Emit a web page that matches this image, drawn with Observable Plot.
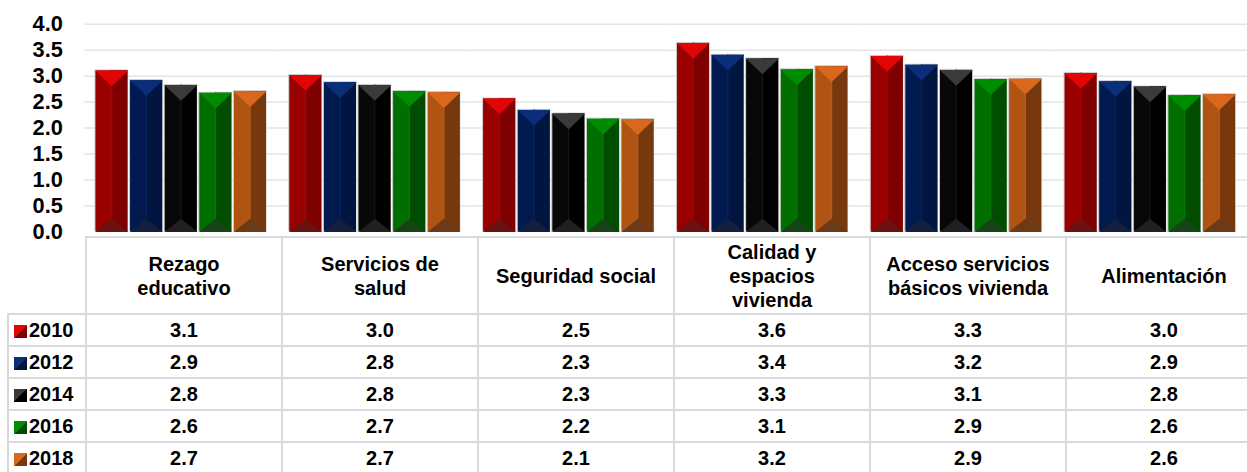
<!DOCTYPE html>
<html>
<head>
<meta charset="utf-8">
<script src="https://cdn.jsdelivr.net/npm/d3@7"></script>
<script src="https://cdn.jsdelivr.net/npm/@observablehq/plot@0.6"></script>
<style>
  html, body { margin: 0; padding: 0; overflow: hidden; background: #fff; }
  body { width: 1247px; height: 472px; font-family: "Liberation Sans", Arial, sans-serif; }
  #chart { position: relative; z-index: 1; height: 236px; }
  #chart svg { display: block; overflow: visible; background: transparent !important; }
  table { border-collapse: collapse; table-layout: fixed; margin-left: 7px; width: 1254px;
          font: bold 20px "Liberation Sans", Arial, sans-serif; color: #000; }
  td { border: 2px solid #d9d9d9; text-align: center; padding: 0; }
  tr.head td { height: 75px; white-space: pre-line; line-height: 24px; }
  tr.head td.blank { border-top: none; border-left: none; }
  tr.row td { height: 30px; line-height: 20px; }
  td.leg { text-align: left; padding-left: 5px; white-space: nowrap; }
  .sw { display: inline-block; width: 13px; height: 13px; margin-right: 2px; vertical-align: -1px; }
</style>
</head>
<body>
<div id="chart"></div>
<table id="tbl"></table>
<script>
// ---- data ----
const categories = ["Rezago educativo", "Servicios de salud", "Seguridad social",
  "Calidad y espacios vivienda", "Acceso servicios básicos vivienda", "Alimentación"];
const headerLabels = ["Rezago\neducativo", "Servicios de\nsalud", "Seguridad social",
  "Calidad y\nespacios\nvivienda", "Acceso servicios\nbásicos vivienda", "Alimentación"];
const years = ["2010", "2012", "2014", "2016", "2018"];

const values2010 = [3.11, 3.02, 2.57, 3.64, 3.39, 3.06];
const values2012 = [2.92, 2.88, 2.35, 3.41, 3.22, 2.90];
const values2014 = [2.83, 2.83, 2.28, 3.34, 3.12, 2.80];
const values2016 = [2.68, 2.71, 2.18, 3.13, 2.94, 2.63];
const values2018 = [2.71, 2.69, 2.17, 3.19, 2.95, 2.65];

const labels2010 = ["3.1", "3.0", "2.5", "3.6", "3.3", "3.0"];
const labels2012 = ["2.9", "2.8", "2.3", "3.4", "3.2", "2.9"];
const labels2014 = ["2.8", "2.8", "2.3", "3.3", "3.1", "2.8"];
const labels2016 = ["2.6", "2.7", "2.2", "3.1", "2.9", "2.6"];
const labels2018 = ["2.7", "2.7", "2.1", "3.2", "2.9", "2.6"];

const yTicks = [0, 0.5, 1, 1.5, 2, 2.5, 3, 3.5, 4];

// ---- styles ----
const seriesValues = [values2010, values2012, values2014, values2016, values2018];
const seriesLabels = [labels2010, labels2012, labels2014, labels2016, labels2018];
const colLeft   = {"2010": "#990000", "2012": "#001a4f", "2014": "#080808", "2016": "#006f00", "2018": "#b05414"};
const colRight  = {"2010": "#7f0000", "2012": "#001640", "2014": "#000000", "2016": "#004d00", "2018": "#78380d"};
const colTop    = {"2010": "#e20505", "2012": "#0a2e7a", "2014": "#3a3a3a", "2016": "#008c00", "2018": "#d9681c"};
const colBottom = {"2010": "#6a1212", "2012": "#141f3e", "2014": "#202020", "2016": "#164416", "2018": "#6b3a18"};
const colSeam   = {"2010": "#b80000", "2012": "#0a2560", "2014": "#1a1a1a", "2016": "#008000", "2018": "#c05f1a"};

const data = years.flatMap((yr, i) => categories.map((c, j) => ({cat: c, year: yr, value: seriesValues[i][j]})));

const triDown = {draw(ctx, size) { const r = Math.sqrt(size / Math.PI); ctx.moveTo(-r, 0); ctx.lineTo(r, 0); ctx.lineTo(0, r * 0.95); ctx.closePath(); }};
const triUp = {draw(ctx, size) { const r = Math.sqrt(size / Math.PI); ctx.moveTo(-r, 0); ctx.lineTo(r, 0); ctx.lineTo(0, -r * 0.8); ctx.closePath(); }};
const half = 16.75;
const gapHalf = 9.8;

const chart = Plot.plot({
  width: 1261,
  height: 236,
  marginLeft: 85,
  marginRight: 0,
  marginTop: 24,
  marginBottom: 2,
  style: {fontFamily: '"Liberation Sans", Arial, sans-serif', color: "#000", background: "transparent", overflow: "visible"},
  fx: {domain: categories, paddingInner: 0.1, paddingOuter: 0.05, axis: null, label: null},
  x: {domain: years, paddingInner: 0.05, paddingOuter: 0.025, axis: null, label: null},
  y: {domain: [0, 4], axis: null, label: null},
  color: {type: "identity"},
  marks: [
    Plot.ruleY(yTicks.filter(d => d > 0), {stroke: "#e4e4e4", strokeWidth: 1.5, insetLeft: -gapHalf, insetRight: -gapHalf}),
    Plot.axisY({ticks: yTicks, tickFormat: d3.format(".1f"), tickSize: 0, tickPadding: 32,
                fontSize: 22, fontWeight: "bold", fill: "#000", label: null}),
    Plot.barY(data, {fx: "cat", x: "year", y: "value", fill: d => colLeft[d.year], stroke: "#cfcfcf", strokeWidth: 1}),
    Plot.barY(data, {fx: "cat", x: "year", y: "value", fill: d => colRight[d.year], insetLeft: half, insetTop: 0.5}),
    Plot.ruleX(data, {fx: "cat", x: "year", y1: 0, y2: "value", stroke: d => colSeam[d.year], strokeWidth: 1}),
    Plot.dot(data, {fx: "cat", x: "year", y: "value", symbol: triDown, r: half, fill: d => colTop[d.year], stroke: "none"}),
    Plot.dot(data, {fx: "cat", x: "year", y: () => 0, symbol: triUp, r: half, fill: d => colBottom[d.year], stroke: "none"})
  ]
});
document.getElementById("chart").appendChild(chart);

// ---- data table below the chart ----
const tbl = document.getElementById("tbl");
const cg = document.createElement("colgroup");
cg.innerHTML = '<col style="width:78px">' + categories.map(() => '<col style="width:196px">').join("");
tbl.appendChild(cg);
const head = document.createElement("tr");
head.className = "head";
head.innerHTML = '<td class="blank"></td>' + headerLabels.map(h => `<td>${h}</td>`).join("");
tbl.appendChild(head);
years.forEach((yr, i) => {
  const tr = document.createElement("tr");
  tr.className = "row";
  const sw = `<span class="sw" style="background:linear-gradient(135deg, ${colTop[yr]} 50%, ${colRight[yr]} 50%)"></span>`;
  tr.innerHTML = `<td class="leg">${sw}${yr}</td>` + seriesLabels[i].map(v => `<td>${v}</td>`).join("");
  tbl.appendChild(tr);
});
</script>
</body>
</html>
